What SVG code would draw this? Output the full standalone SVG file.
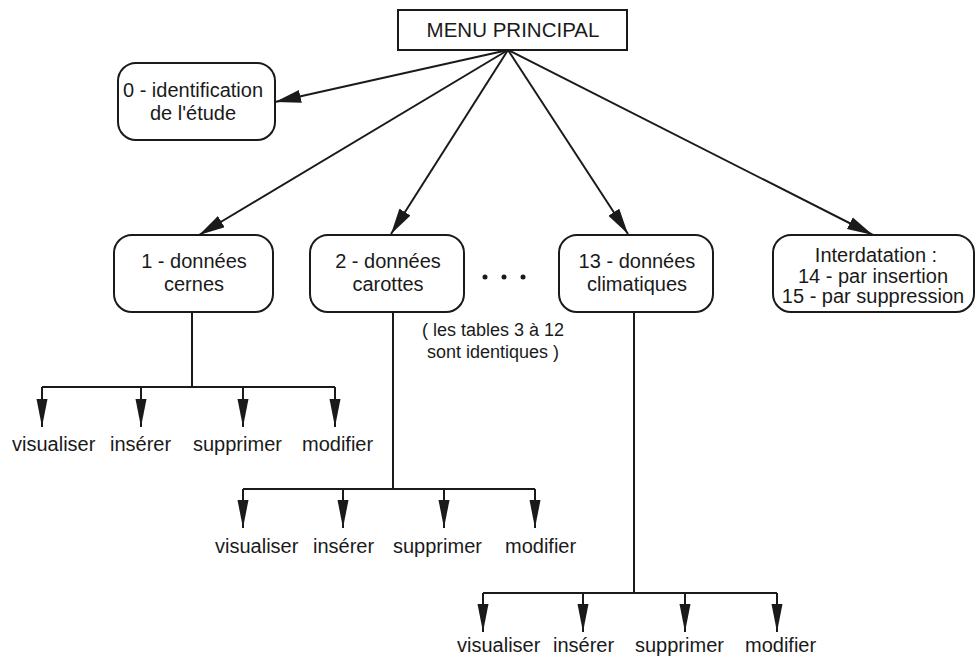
<svg xmlns="http://www.w3.org/2000/svg" width="976" height="661" viewBox="0 0 976 661">
<defs>
<style>
.box{fill:#fff;stroke:#1a1a1a;stroke-width:2}
.t{font-family:"Liberation Sans",Arial,sans-serif;font-size:20px;fill:#1a1a1a}
.c{text-anchor:middle}
.ln{fill:none;stroke:#1a1a1a;stroke-width:2}
</style>
<marker id="ah" markerUnits="userSpaceOnUse" markerWidth="28" markerHeight="14" refX="26" refY="6.5" orient="auto" viewBox="0 0 28 14">
<path d="M0,0 L26,6.5 L0,13 z" fill="#1a1a1a"/>
</marker>
<marker id="dh" markerUnits="userSpaceOnUse" markerWidth="30" markerHeight="12" refX="28" refY="5.5" orient="auto" viewBox="0 0 30 12">
<path d="M0,0 L28,5.5 L0,11 z" fill="#1a1a1a"/>
</marker>
</defs>
<rect width="976" height="661" fill="#fff"/>

<g id="menu">
<rect class="box" x="398" y="10" width="229" height="40"/>
<text class="t c" x="513" y="37" style="font-size:20.5px">MENU PRINCIPAL</text>
</g>
<g id="n0">
<rect class="box" x="118" y="63" width="157" height="77" rx="18"/>
<text class="t c" x="193" y="97">0 - identification</text>
<text class="t c" x="193" y="120">de l'étude</text>
</g>
<g id="n1">
<rect class="box" x="114" y="235" width="159" height="77" rx="18"/>
<text class="t c" x="194" y="268">1 - données</text>
<text class="t c" x="194" y="291">cernes</text>
</g>
<g id="n2">
<rect class="box" x="310" y="235" width="154" height="77" rx="18"/>
<text class="t c" x="388" y="268">2 - données</text>
<text class="t c" x="388" y="291">carottes</text>
</g>
<g id="n13">
<rect class="box" x="559" y="235" width="154" height="77" rx="18"/>
<text class="t c" x="637" y="268">13 - données</text>
<text class="t c" x="637" y="291">climatiques</text>
</g>
<g id="ninter">
<rect class="box" x="773" y="235" width="201" height="77" rx="18"/>
<text class="t c" x="876" y="262">Interdatation :</text>
<text class="t c" x="873" y="283">14 - par insertion</text>
<text class="t c" x="873" y="303">15 - par suppression</text>
</g>
<g id="dots" fill="#1a1a1a">
<circle cx="485" cy="277" r="2.5"/>
<circle cx="504" cy="277" r="2.5"/>
<circle cx="523" cy="277" r="2.5"/>
</g>
<g id="note">
<text class="t c" x="493" y="336" style="font-size:18px">( les tables 3 à 12</text>
<text class="t c" x="493" y="358" style="font-size:18px">sont identiques )</text>
</g>

<g id="connectors">
<line class="ln" x1="508" y1="50" x2="275" y2="102" marker-end="url(#ah)"/>
<line class="ln" x1="508" y1="50" x2="199" y2="235" marker-end="url(#ah)"/>
<line class="ln" x1="508" y1="50" x2="391" y2="234" marker-end="url(#ah)"/>
<line class="ln" x1="508" y1="50" x2="628" y2="234" marker-end="url(#ah)"/>
<line class="ln" x1="508" y1="50" x2="873" y2="235" marker-end="url(#ah)"/>

<path class="ln" d="M192,312 V387 M42,387 H335"/>
<line class="ln" x1="42" y1="387" x2="42" y2="427" marker-end="url(#dh)"/>
<line class="ln" x1="141" y1="387" x2="141" y2="427" marker-end="url(#dh)"/>
<line class="ln" x1="243" y1="387" x2="243" y2="427" marker-end="url(#dh)"/>
<line class="ln" x1="335" y1="387" x2="335" y2="427" marker-end="url(#dh)"/>

<path class="ln" d="M393,312 V489 M243,489 H535"/>
<line class="ln" x1="243" y1="489" x2="243" y2="528" marker-end="url(#dh)"/>
<line class="ln" x1="343" y1="489" x2="343" y2="528" marker-end="url(#dh)"/>
<line class="ln" x1="444" y1="489" x2="444" y2="528" marker-end="url(#dh)"/>
<line class="ln" x1="535" y1="489" x2="535" y2="528" marker-end="url(#dh)"/>

<path class="ln" d="M634,312 V593 M483,593 H777"/>
<line class="ln" x1="483" y1="593" x2="483" y2="632" marker-end="url(#dh)"/>
<line class="ln" x1="583" y1="593" x2="583" y2="632" marker-end="url(#dh)"/>
<line class="ln" x1="685" y1="593" x2="685" y2="632" marker-end="url(#dh)"/>
<line class="ln" x1="777" y1="593" x2="777" y2="632" marker-end="url(#dh)"/>
</g>

<g id="leaves1">
<text class="t" x="12" y="451">visualiser</text>
<text class="t" x="110" y="451">insérer</text>
<text class="t" x="193" y="451">supprimer</text>
<text class="t" x="302" y="451">modifier</text>
</g>
<g id="leaves2">
<text class="t" x="215" y="553">visualiser</text>
<text class="t" x="313" y="553">insérer</text>
<text class="t" x="393" y="553">supprimer</text>
<text class="t" x="505" y="553">modifier</text>
</g>
<g id="leaves3">
<text class="t" x="457" y="652">visualiser</text>
<text class="t" x="553" y="652">insérer</text>
<text class="t" x="635" y="652">supprimer</text>
<text class="t" x="745" y="652">modifier</text>
</g>
</svg>
